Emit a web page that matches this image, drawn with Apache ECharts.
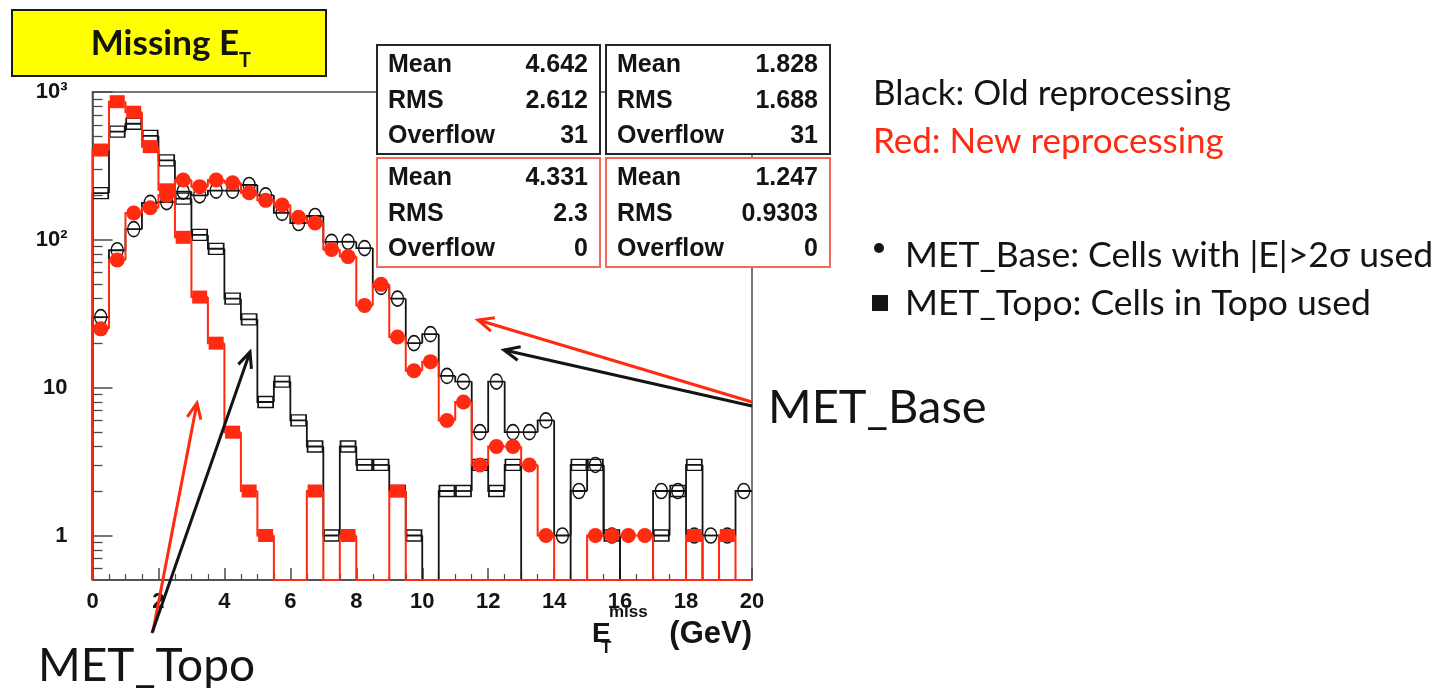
<!DOCTYPE html>
<html>
<head>
<meta charset="utf-8">
<script src="https://cdn.jsdelivr.net/npm/echarts@6/dist/echarts.min.js"></script>
<style>
  html, body { margin: 0; padding: 0; background: #ffffff; }
  #chart { width: 1446px; height: 688px; }
</style>
</head>
<body>
<div id="chart"></div>
<script>
// Missing transverse energy, 40 bins of 0.5 GeV between 0 and 20 GeV
const BIN_START = 0;
const BIN_WIDTH = 0.5;

// Entries per bin (old = black, new = red)
const baseOld = [30, 85, 118, 178, 180, 212, 200, 215, 215, 235,
                 200, 152, 130, 145, 97, 97, 88, 48, 40, 20,
                 23, 12, 11, 5, 11, 5, 5, 6, 1, 2,
                 3, 1, 0, 0, 2, 2, 1, 1, 1, 2];
const baseNew = [25, 73, 152, 165, 200, 254, 229, 254, 243, 208,
                 185, 172, 142, 130, 86, 77, 36, 50, 22, 13,
                 15, 6, 8, 3, 4, 4, 3, 1, 0, 0,
                 1, 1, 1, 1, 0, 0, 0, 0, 0, 0];
const topoOld = [207, 540, 610, 505, 345, 190, 108, 87, 40, 29,
                 8, 11, 6, 4, 1, 4, 3, 3, 2, 1,
                 0, 2, 2, 3, 2, 3, 0, 0, 0, 3,
                 3, 1, 0, 0, 1, 2, 3, 0, 0, 0];
const topoNew = [405, 860, 730, 427, 218, 104, 41, 20, 5, 2,
                 1, 0, 0, 2, 0, 1, 0, 0, 2, 0,
                 0, 0, 0, 0, 0, 0, 0, 0, 0, 0,
                 0, 0, 0, 0, 0, 0, 1, 0, 1, 0];

// Statistics boxes
const statLabels = ['Mean', 'RMS', 'Overflow'];
const statsBaseOld = ['4.642', '2.612', '31'];
const statsTopoOld = ['1.828', '1.688', '31'];
const statsBaseNew = ['4.331', '2.3', '0'];
const statsTopoNew = ['1.247', '0.9303', '0'];

// Axes
const X_MIN = 0, X_MAX = 20, X_STEP = 2;
const Y_MIN = 0.5, Y_MAX = 1000;
const Y_MAJOR = [1, 10, 100, 1000];
const Y_MAJOR_LABELS = ['1', '10', '10²', '10³'];
const Y_MINOR = [0.6, 0.7, 0.8, 0.9, 2, 3, 4, 5, 6, 7, 8, 9,
                 20, 30, 40, 50, 60, 70, 80, 90,
                 200, 300, 400, 500, 600, 700, 800, 900];

const RED = '#ff2a10';
const BLACK = '#141414';
const AXIS = '#4a4a4a';
const ROOT_FONT = '"Liberation Sans", Arial, Helvetica, sans-serif';
const SLIDE_FONT = 'Lato, "Open Sans", sans-serif';

// [binLow, binHigh, count, previousCount]
function stepData(counts) {
  return counts.map((c, i) => [BIN_START + i * BIN_WIDTH, BIN_START + (i + 1) * BIN_WIDTH, c, i === 0 ? 0 : counts[i - 1]]);
}
// [binCentre, count] for filled bins only
function markerData(counts) {
  const out = [];
  counts.forEach((c, i) => { if (c > 0) out.push([BIN_START + (i + 0.5) * BIN_WIDTH, c]); });
  return out;
}
// histogram outline: empty bins fall to the bottom of the frame
function stepRenderer(color, width) {
  return function (params, api) {
    const lo = api.value(0), hi = api.value(1);
    const v = Math.max(api.value(2), Y_MIN);
    const p = Math.max(api.value(3), Y_MIN);
    return {
      type: 'polyline',
      shape: { points: [api.coord([lo, p]), api.coord([lo, v]), api.coord([hi, v])] },
      style: { stroke: color, lineWidth: width, fill: null }
    };
  };
}
function histSeries(name, counts, color, width, z) {
  return {
    name: name, type: 'custom', data: stepData(counts),
    encode: { x: [0, 1], y: 2 }, renderItem: stepRenderer(color, width),
    silent: true, z: z
  };
}
function markerSeries(name, counts, symbol, size, fill, stroke, z) {
  return {
    name: name, type: 'scatter', data: markerData(counts),
    symbol: symbol, symbolSize: size,
    itemStyle: { color: fill, borderColor: stroke, borderWidth: fill === 'transparent' ? 1.5 : 0, opacity: 1 },
    silent: true, z: z
  };
}

function arrow(x1, y1, x2, y2, color) {
  const ang = Math.atan2(y2 - y1, x2 - x1);
  const L = 17, spread = 0.42;
  const h1 = [x2 - L * Math.cos(ang - spread), y2 - L * Math.sin(ang - spread)];
  const h2 = [x2 - L * Math.cos(ang + spread), y2 - L * Math.sin(ang + spread)];
  return [
    { type: 'line', z: 120, shape: { x1: x1, y1: y1, x2: x2, y2: y2 }, style: { stroke: color, lineWidth: 3 } },
    { type: 'polyline', z: 120, shape: { points: [h1, [x2, y2], h2] }, style: { stroke: color, lineWidth: 3, fill: null } }
  ];
}

function statBox(x, y, w, h, color, values) {
  const els = [{ type: 'rect', z: 60, shape: { x: x, y: y, width: w, height: h },
                 style: { fill: '#ffffff', stroke: color, lineWidth: 2 } }];
  const rows = [20, 56, 91];
  statLabels.forEach((lab, k) => {
    els.push({ type: 'text', z: 61, x: x + 11, y: y + rows[k],
      style: { text: lab, fill: BLACK, font: 'bold 25px ' + ROOT_FONT, textAlign: 'left', textVerticalAlign: 'middle' } });
    els.push({ type: 'text', z: 61, x: x + w - 12, y: y + rows[k],
      style: { text: values[k], fill: BLACK, font: 'bold 25px ' + ROOT_FONT, textAlign: 'right', textVerticalAlign: 'middle' } });
  });
  return els;
}

function txt(x, y, text, font, color, align) {
  return { type: 'text', z: 110, x: x, y: y,
           style: { text: text, font: font, fill: color, textAlign: align || 'left', textVerticalAlign: 'middle' } };
}

const graphics = [].concat(
  // title box
  [{ type: 'rect', z: 100, shape: { x: 12, y: 10, width: 314, height: 66 },
     style: { fill: '#ffff00', stroke: '#1a1a1a', lineWidth: 2 } },
   txt(239, 44, 'Missing E', 'bold 35px ' + SLIDE_FONT, BLACK, 'right'),
   txt(239, 61, 'T', 'bold 20px ' + SLIDE_FONT, BLACK, 'left')],
  // statistics
  statBox(377, 45, 223, 109, '#262626', statsBaseOld),
  statBox(606, 45, 224, 109, '#262626', statsTopoOld),
  statBox(377, 158, 223, 109, '#f26a5a', statsBaseNew),
  statBox(606, 158, 224, 109, '#f26a5a', statsTopoNew),
  // x-axis title
  [txt(592, 634, 'E', 'bold 28px ' + ROOT_FONT, BLACK, 'left'),
   txt(609, 612, 'miss', 'bold 17px ' + ROOT_FONT, BLACK, 'left'),
   txt(601, 648, 'T', 'bold 17px ' + ROOT_FONT, BLACK, 'left'),
   txt(752, 634, '(GeV)', 'bold 31px ' + ROOT_FONT, BLACK, 'right')],
  // right-hand notes
  [txt(873, 94, 'Black: Old reprocessing', '35px ' + SLIDE_FONT, BLACK),
   txt(873, 142, 'Red: New reprocessing', '35px ' + SLIDE_FONT, RED),
   { type: 'circle', z: 110, shape: { cx: 879, cy: 248, r: 5 }, style: { fill: BLACK } },
   txt(905, 256, 'MET_Base: Cells with |E|>2σ used', '35.5px ' + SLIDE_FONT, BLACK),
   { type: 'rect', z: 110, shape: { x: 872, y: 295, width: 16, height: 16 }, style: { fill: BLACK } },
   txt(905, 304, 'MET_Topo: Cells in Topo used', '35.5px ' + SLIDE_FONT, BLACK),
   txt(768, 408, 'MET_Base', '47px ' + SLIDE_FONT, BLACK),
   txt(38, 666, 'MET_Topo', '46px ' + SLIDE_FONT, BLACK)],
  // pointers
  arrow(752, 402, 478, 320, RED),
  arrow(752, 406, 504, 350, BLACK),
  arrow(153, 631, 197, 403, RED),
  arrow(152, 633, 250, 352, BLACK)
);

const chart = echarts.init(document.getElementById('chart'), null, { renderer: 'canvas' });
chart.setOption({
  animation: false,
  backgroundColor: '#ffffff',
  grid: { left: 92.5, right: 694, top: 92, bottom: 108, show: true,
          borderColor: AXIS, borderWidth: 1.5, backgroundColor: 'transparent' },
  xAxis: {
    type: 'value', min: X_MIN, max: X_MAX, interval: X_STEP,
    axisLine: { show: true, onZero: false, lineStyle: { color: AXIS, width: 1.5 } },
    axisTick: { show: true, inside: true, length: 12, lineStyle: { color: AXIS, width: 1.5 } },
    minorTick: { show: true, splitNumber: 4, length: 6, lineStyle: { color: AXIS, width: 1.2 } },
    axisLabel: { margin: 11, color: BLACK, fontFamily: ROOT_FONT, fontWeight: 'bold', fontSize: 22 },
    splitLine: { show: false }, minorSplitLine: { show: false }
  },
  yAxis: [{
    type: 'log', logBase: 10, min: Y_MIN, max: Y_MAX,
    axisLine: { show: true, lineStyle: { color: AXIS, width: 1.5 } },
    axisTick: { show: true, inside: true, length: 20, customValues: Y_MAJOR, lineStyle: { color: AXIS, width: 1.5 } },
    axisLabel: {
      customValues: Y_MAJOR, margin: 25, color: BLACK, fontFamily: ROOT_FONT, fontWeight: 'bold', fontSize: 22,
      formatter: function (v) {
        const k = Y_MAJOR.findIndex(t => Math.abs(t - v) < 1e-6 * t);
        return k < 0 ? '' : Y_MAJOR_LABELS[k];
      }
    },
    splitLine: { show: false }, minorTick: { show: false }
  }, {
    type: 'log', logBase: 10, min: Y_MIN, max: Y_MAX, position: 'left',
    axisLine: { show: false },
    axisTick: { show: true, inside: true, length: 10, customValues: Y_MINOR, lineStyle: { color: AXIS, width: 1.3 } },
    axisLabel: { show: false },
    splitLine: { show: false }
  }],
  series: [
    histSeries('MET_Topo old', topoOld, BLACK, 1.8, 3),
    histSeries('MET_Base old', baseOld, BLACK, 1.8, 3),
    markerSeries('MET_Topo old markers', topoOld, 'rect', [15, 11], 'transparent', BLACK, 4),
    markerSeries('MET_Base old markers', baseOld, 'circle', [12, 15], 'transparent', BLACK, 4),
    histSeries('MET_Topo new', topoNew, RED, 2, 5),
    histSeries('MET_Base new', baseNew, RED, 2, 5),
    markerSeries('MET_Topo new markers', topoNew, 'rect', [15, 13], RED, RED, 6),
    markerSeries('MET_Base new markers', baseNew, 'circle', 15, RED, RED, 6)
  ],
  graphic: { elements: graphics }
});
</script>
</body>
</html>
